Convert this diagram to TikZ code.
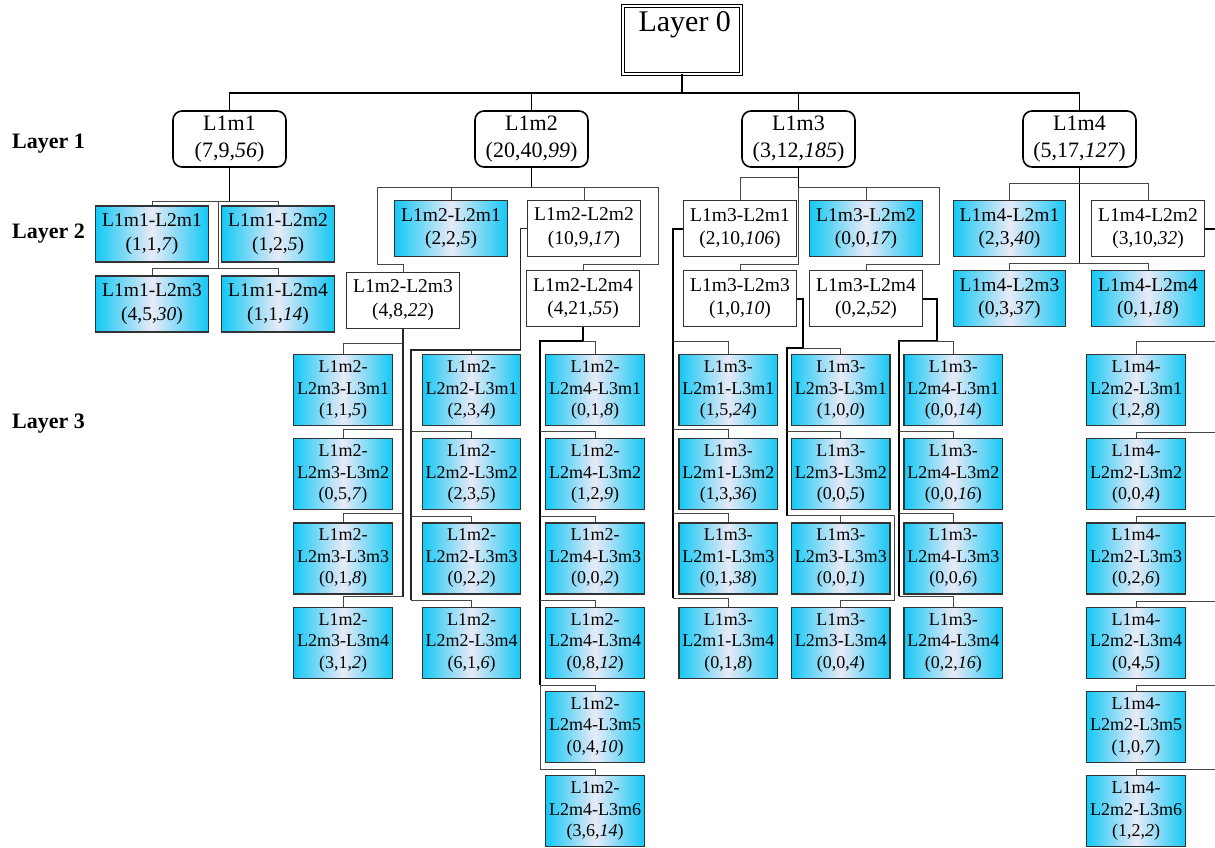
\documentclass[tikz,border=0pt]{standalone}
\usepackage{fontspec}
\setmainfont{Liberation Serif}
\usetikzlibrary{calc}
\definecolor{boxcyan}{RGB}{20,200,245}
\definecolor{boxmid}{RGB}{232,234,246}
\definecolor{linegray}{RGB}{70,70,70}
\newcommand{\tri}[3]{(#1,#2,\textit{#3})}
\tikzset{
  l0box/.style={draw,double,double distance=2pt,line width=1pt,minimum width=117.5pt,minimum height=68pt},
  l1box/.style={draw,rounded corners=9pt,line width=1.6pt,align=center,minimum width=113pt,minimum height=56pt,inner sep=2pt,font=\fontsize{22}{27}\selectfont},
  l2box/.style={draw=black!80,line width=1.2pt,fill=white,align=center,minimum width=112.5pt,minimum height=56pt,inner sep=2pt,font=\fontsize{19.5}{23.5}\selectfont},
  l2cyan/.style={l2box,left color=boxcyan,right color=boxcyan,middle color=boxmid},
  l3box/.style={draw=black!80,line width=1.2pt,align=center,minimum width=98.5pt,minimum height=71pt,inner sep=1pt,font=\fontsize{18}{21.5}\selectfont,left color=boxcyan,right color=boxcyan,middle color=boxmid},
  layer/.style={font=\bfseries\fontsize{22}{26}\selectfont,anchor=west,inner sep=0pt},
  bus/.style={line width=1.3pt},
  trunk/.style={line width=1.9pt},
  mid/.style={line width=1.4pt,draw=black!85},
  conn/.style={line width=1pt,draw=linegray},
}

\begin{document}
\begin{tikzpicture}[x=1pt,y=-1pt]
\useasboundingbox (0,0) rectangle (1215,847);
\clip (0,0) rectangle (1215,847);

% layer 0 and 1
\node[l0box,label={[font=\fontsize{30}{36}\selectfont,anchor=north,inner sep=0pt,yshift=-6pt,xshift=3pt]north:Layer 0}] (l0) at (681.75,39.5) {};
\node[l1box] (l1m1) at (229.5,139) {L1m1\\\tri{7}{9}{56}};
\node[l1box] (l1m2) at (531.5,139) {L1m2\\\tri{20}{40}{99}};
\node[l1box] (l1m3) at (798.5,139) {L1m3\\\tri{3}{12}{185}};
\node[l1box] (l1m4) at (1079.5,139) {L1m4\\\tri{5}{17}{127}};

\node[layer] (lay1) at (12,144) {Layer 1};
\node[layer] (lay2) at (12,234) {Layer 2};
\node[layer] (lay3) at (12,424) {Layer 3};

% layer 2
\node[l2cyan] (a1) at (152,234) {L1m1-L2m1\\\tri{1}{1}{7}};
\node[l2cyan] (a2) at (278,234) {L1m1-L2m2\\\tri{1}{2}{5}};
\node[l2cyan] (a3) at (152,304) {L1m1-L2m3\\\tri{4}{5}{30}};
\node[l2cyan] (a4) at (278,304) {L1m1-L2m4\\\tri{1}{1}{14}};
\node[l2cyan] (b1) at (451,228.7) {L1m2-L2m1\\\tri{2}{2}{5}};
\node[l2box] (b2) at (584,228.3) {L1m2-L2m2\\\tri{10}{9}{17}};
\node[l2box] (b3) at (403,300.3) {L1m2-L2m3\\\tri{4}{8}{22}};
\node[l2box] (b4) at (583,298.5) {L1m2-L2m4\\\tri{4}{21}{55}};
\node[l2box] (c1) at (740,228.7) {L1m3-L2m1\\\tri{2}{10}{106}};
\node[l2cyan] (c2) at (866,228.7) {L1m3-L2m2\\\tri{0}{0}{17}};
\node[l2box] (c3) at (740,298.7) {L1m3-L2m3\\\tri{1}{0}{10}};
\node[l2box] (c4) at (866,298.7) {L1m3-L2m4\\\tri{0}{2}{52}};
\node[l2cyan] (d1) at (1009.5,228.7) {L1m4-L2m1\\\tri{2}{3}{40}};
\node[l2box] (d2) at (1148,228.7) {L1m4-L2m2\\\tri{3}{10}{32}};
\node[l2cyan] (d3) at (1009.5,298.7) {L1m4-L2m3\\\tri{0}{3}{37}};
\node[l2cyan] (d4) at (1148,298.7) {L1m4-L2m4\\\tri{0}{1}{18}};

% layer 3
\foreach \i/\p/\q/\r in {1/1/1/5,2/0/5/7,3/0/1/8,4/3/1/2}
  \node[l3box] (b3l\i) at (343,{390+84.2*(\i-1)}) {L1m2-\\L2m3-L3m\i\\\tri{\p}{\q}{\r}};
\foreach \i/\p/\q/\r in {1/2/3/4,2/2/3/5,3/0/2/2,4/6/1/6}
  \node[l3box] (b2l\i) at (471.5,{390+84.2*(\i-1)}) {L1m2-\\L2m2-L3m\i\\\tri{\p}{\q}{\r}};
\foreach \i/\p/\q/\r in {1/0/1/8,2/1/2/9,3/0/0/2,4/0/8/12,5/0/4/10,6/3/6/14}
  \node[l3box] (b4l\i) at (595,{390+84.2*(\i-1)}) {L1m2-\\L2m4-L3m\i\\\tri{\p}{\q}{\r}};
\foreach \i/\p/\q/\r in {1/1/5/24,2/1/3/36,3/0/1/38,4/0/1/8}
  \node[l3box] (c1l\i) at (728.3,{390+84.2*(\i-1)}) {L1m3-\\L2m1-L3m\i\\\tri{\p}{\q}{\r}};
\foreach \i/\p/\q/\r in {1/1/0/0,2/0/0/5,3/0/0/1,4/0/0/4}
  \node[l3box] (c3l\i) at (840.8,{390+84.2*(\i-1)}) {L1m3-\\L2m3-L3m\i\\\tri{\p}{\q}{\r}};
\foreach \i/\p/\q/\r in {1/0/0/14,2/0/0/16,3/0/0/6,4/0/2/16}
  \node[l3box] (c4l\i) at (953.3,{390+84.2*(\i-1)}) {L1m3-\\L2m4-L3m\i\\\tri{\p}{\q}{\r}};
\foreach \i/\p/\q/\r in {1/1/2/8,2/0/0/4,3/0/2/6,4/0/4/5,5/1/0/7,6/1/2/2}
  \node[l3box] (d2l\i) at (1136,{390+84.2*(\i-1)}) {L1m4-\\L2m2-L3m\i\\\tri{\p}{\q}{\r}};

% junctions
\coordinate (ja) at (218,201);
\coordinate (jb3) at (377,264);
\coordinate (jb4) at (658,264);
\coordinate (jc4) at (939,264);
\coordinate (kb2) at (520.5,350);
\coordinate (tb2) at (411,350);
\coordinate (tb4) at (540.3,341);
\coordinate (tc1) at (672.7,228.7);
\coordinate (kc3) at (803,348);
\coordinate (tc3) at (786.7,348);
\coordinate (uc3) at (894.3,515.7);
\coordinate (kc4) at (936.7,341);
\coordinate (tc4) at (899.3,341);
\coordinate (td2) at (1222,228.7);

% layer 0 -> layer 1
\draw[trunk] (l0.south) -- (l0.south |- 0,93);
\draw[bus] (l1m1.north) |- (l1m4.north |- 0,93) -- (l1m4.north);
\draw[bus] (l1m2.north) -- (l1m2.north |- 0,93);
\draw[bus] (l1m3.north) -- (l1m3.north |- 0,93);

% layer 1 -> layer 2
\draw[trunk] (l1m1.south) -- (l1m1.south |- 0,201);
\draw[conn] (a1.north) |- (a2.north |- 0,201) -- (a2.north);
\draw[conn] (ja) -- (ja |- 0,268);
\draw[conn] (a3.north) |- (a4.north |- 0,268) -- (a4.north);

\draw[trunk] (l1m2.south) -- (l1m2.south |- 0,187);
\draw[conn] (b3.north) |- (jb3) |- (jb4 |- 0,187) -- (jb4) -| (b4.north);
\draw[conn] (b1.north) -- (b1.north |- 0,187);
\draw[conn] (b2.north) -- (b2.north |- 0,187);

\draw[trunk] (l1m3.south) -- (l1m3.south |- 0,187);
\draw[conn] (c1.north) |- (l1m3.south |- 0,177);
\draw[conn] (l1m3.south |- 0,187) -| (jc4) -| (c4.north);
\draw[conn] (c2.north) -- (c2.north |- 0,187);
\draw[conn] (l1m3.south |- 0,187) |- (c3.north |- 0,264) -- (c3.north);

\draw[trunk] (l1m4.south) -- (l1m4.south |- 0,263.3);
\draw[conn] (d1.north) |- (d2.north |- 0,183.3) -- (d2.north);
\draw[conn] (d3.north) |- (d4.north |- 0,263.3) -- (d4.north);

% layer 2 -> layer 3
\draw[mid] (b3.south) -- (b3.south |- 0,596.7);
\foreach \i/\y in {1/343.3,2/429,3/513,4/596.7}
  \draw[conn] (b3.south |- 0,\y) -| (b3l\i.north);

\draw[mid] (b2.west) -| (kb2) -- (tb2) -- (tb2 |- 0,600);
\draw[conn] (kb2) -| (b2l1.north);
\foreach \i/\y in {2/431.7,3/516.7,4/600}
  \draw[conn] (tb2 |- 0,\y) -| (b2l\i.north);

\draw[trunk] (b4.south) |- (tb4) -- (tb4 |- 0,685);
\draw[conn] (tb4 |- 0,685) -- (tb4 |- 0,769.3);
\draw[conn] (b4.south |- 0,341) -| (b4l1.north);
\foreach \i/\y in {2/431.7,3/516.7,4/600,5/685,6/769.3}
  \draw[conn] (tb4 |- 0,\y) -| (b4l\i.north);

\draw[trunk] (c1.west) -- (tc1) -- (tc1 |- 0,598.3);
\foreach \i/\y in {1/341,2/429,3/513.3,4/598.3}
  \draw[conn] (tc1 |- 0,\y) -| (c1l\i.north);

\draw[trunk] (c3.east) -| (kc3) -- (tc3) -- (tc3 |- uc3);
\draw[conn] (tc3 |- uc3) -- (uc3) |- (c3l4.north |- 0,600) -- (c3l4.north);
\draw[conn] (kc3) -| (c3l1.north);
\draw[conn] (tc3 |- 0,431.7) -| (c3l2.north);
\draw[conn] (c3l3.north |- uc3) -- (c3l3.north);

\draw[trunk] (c4.east) -| (kc4) -- (tc4) -- (tc4 |- 0,596);
\foreach \i/\y in {1/341,2/431,3/513.3,4/596}
  \draw[conn] (tc4 |- 0,\y) -| (c4l\i.north);

\draw[trunk] (d2.east) -- (td2) -- (td2 |- 0,769.3);
\foreach \i/\y in {1/341,2/432.7,3/516.7,4/601,5/685,6/769.3}
  \draw[conn] (td2 |- 0,\y) -| (d2l\i.north);
\end{tikzpicture}
\end{document}
